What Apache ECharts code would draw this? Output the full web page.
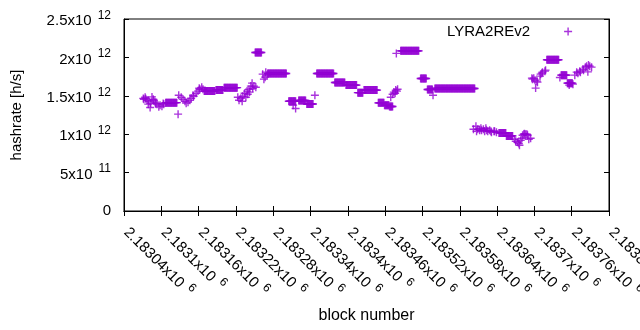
<!DOCTYPE html>
<html>
<head>
<meta charset="utf-8">
<script src="https://cdn.jsdelivr.net/npm/echarts@6/dist/echarts.min.js"></script>
<style>
  html, body { margin: 0; padding: 0; background: #fff; }
  #chart { width: 640px; height: 330px; }
</style>
</head>
<body>
<div id="chart"></div>
<script>
// runs of blocks that share the same hashrate (block from, block to, value in 1e12 h/s)
const runStart = [2183107, 2183169, 2183188, 2183201, 2183251, 2183271, 2183305, 2183321, 2183334, 2183350,
  2183379, 2183397, 2183416, 2183426, 2183449, 2183459, 2183467, 2183485, 2183517, 2183528,
  2183540, 2183643, 2183655, 2183720, 2183743, 2183753]
const runEnd = [2183125, 2183186, 2183199, 2183222, 2183261, 2183301, 2183316, 2183332, 2183344, 2183377,
  2183395, 2183414, 2183424, 2183447, 2183458, 2183466, 2183472, 2183514, 2183526, 2183536,
  2183604, 2183654, 2183665, 2183739, 2183752, 2183761]
const runValue = [1.411, 1.561, 1.574, 1.606, 2.063, 1.791, 1.430, 1.439, 1.394, 1.791,
  1.674, 1.639, 1.541, 1.574, 1.408, 1.378, 1.361, 2.085, 1.726, 1.583,
  1.596, 1.017, 0.978, 1.970, 1.769, 1.665]

// single blocks in between (block, value in 1e12 h/s)
const pointBlock = [
  2183071, 2183072, 2183074, 2183075, 2183077, 2183079, 2183080, 2183082, 2183083, 2183085,
  2183087, 2183088, 2183090, 2183091, 2183093, 2183096, 2183098, 2183101, 2183103, 2183104,
  2183127,
  2183128, 2183132, 2183135, 2183138, 2183140, 2183143, 2183146, 2183148, 2183151, 2183152,
  2183156, 2183159, 2183161, 2183162, 2183165, 2183167,
  2183223, 2183225, 2183228, 2183230, 2183231, 2183234, 2183236, 2183238, 2183239, 2183241,
  2183242, 2183244, 2183246, 2183247, 2183249, 2183252, 2183263, 2183265, 2183267, 2183268, 2183270,
  2183312, 2183316, 2183347,
  2183469, 2183472, 2183474, 2183476, 2183477, 2183479, 2183480, 2183478, 2183537,
  2183602, 2183606, 2183607, 2183609, 2183612, 2183614, 2183615, 2183618, 2183620, 2183622,
  2183623, 2183625, 2183628, 2183630, 2183631, 2183635, 2183636, 2183639,
  2183668, 2183670, 2183673, 2183675, 2183676, 2183678, 2183680, 2183681, 2183683, 2183684,
  2183686, 2183688, 2183689, 2183691, 2183694,
  2183696, 2183697, 2183699, 2183701, 2183702, 2183704, 2183705, 2183709, 2183710, 2183712,
  2183713, 2183717, 2183718, 2183741, 2183756, 2183762,
  2183765, 2183768, 2183770, 2183773, 2183774, 2183778, 2183779, 2183782, 2183784, 2183786,
  2183787, 2183789, 2183792
]
const pointValue = [
  1.466, 1.456, 1.482, 1.463, 1.443, 1.391, 1.430, 1.348, 1.404, 1.486,
  1.456, 1.443, 1.417, 1.400, 1.391, 1.356, 1.378, 1.365, 1.400, 1.391,
  1.261,
  1.508, 1.482, 1.456, 1.430, 1.404, 1.417, 1.443, 1.469, 1.508, 1.495,
  1.534, 1.561, 1.599, 1.586, 1.612, 1.586,
  1.482, 1.443, 1.469, 1.430, 1.495, 1.534, 1.482, 1.561, 1.521, 1.586,
  1.548, 1.626, 1.665, 1.599, 1.626, 1.612, 1.782, 1.717, 1.743, 1.808, 1.769,
  1.378, 1.335, 1.508,
  1.482, 1.521, 1.548, 1.534, 1.574, 1.561, 1.586, 2.052, 1.508,
  1.065, 1.104, 1.039, 1.065, 1.052, 1.078, 1.052, 1.065, 1.039, 1.078,
  1.052, 1.039, 1.052, 1.039, 1.026, 1.039, 1.039, 1.026,
  0.935, 0.909, 0.896, 0.879, 0.857, 0.922, 0.948, 0.987, 1.000, 1.007,
  1.000, 1.000, 0.987, 0.935, 0.948,
  1.730, 1.717, 1.730, 1.704, 1.600, 1.691, 1.678, 1.756, 1.782, 1.795,
  1.808, 1.821, 1.834, 1.739, 1.639, 1.652,
  1.769, 1.808, 1.795, 1.821, 1.808, 1.847, 1.834, 1.873, 1.886, 1.812,
  1.900, 1.886, 1.873
]

// tick labels (mantissa + superscript exponent)
const xTickMant = ['2.18304x10', '2.1831x10', '2.18316x10', '2.18322x10', '2.18328x10', '2.18334x10', '2.1834x10',
  '2.18346x10', '2.18352x10', '2.18358x10', '2.18364x10', '2.1837x10', '2.18376x10', '2.18382x10']
const xTickExp = ['6', '6', '6', '6', '6', '6', '6', '6', '6', '6', '6', '6', '6', '6']
const yTickMant = ['0', '5x10', '1x10', '1.5x10', '2x10', '2.5x10']
const yTickExp = ['', '11', '12', '12', '12', '12']

const seriesName = 'LYRA2REv2'
const xMin = 2183040
const xMax = 2183820
const xStep = 60
const yStep = 0.5e12

const plusPath = 'path://M3.3,0h1.4v8h-1.4z M0,3.3h8v1.4h-8z'
const font = 'Liberation Sans'

const data = []
runStart.forEach((s, i) => {
  for (let b = s; b <= runEnd[i]; b++) data.push([b, runValue[i] * 1e12])
})
pointBlock.forEach((b, i) => data.push([b, pointValue[i] * 1e12]))

const rich = {
  m: { fontSize: 15, fontFamily: font, color: '#000', verticalAlign: 'bottom' },
  e: { fontSize: 12, fontFamily: font, color: '#000', verticalAlign: 'bottom', padding: [0, 0, 7, 6] }
}
function sci (mant, exp) {
  return exp ? '{m|' + mant + '}{e|' + exp + '}' : '{m|' + mant + '}'
}

const chart = echarts.init(document.getElementById('chart'))
const axisLine = { lineStyle: { color: '#000', width: 1 } }
const axisTick = { inside: true, length: 5, lineStyle: { color: '#000' } }

const option = {
  animation: false,
  backgroundColor: '#fff',
  grid: {
    left: 124, right: 31, top: 19, bottom: 119,
    outerBoundsMode: 'none',
    containLabel: false,
    show: true, borderColor: '#000', borderWidth: 1
  },
  legend: {
    data: [{ name: seriesName, icon: plusPath }],
    left: 447,
    top: 24,
    padding: 0,
    align: 'right',
    itemWidth: 66,
    itemHeight: 8,
    textStyle: { fontSize: 15, fontFamily: font, color: '#000' }
  },
  xAxis: [
    {
      type: 'value',
      min: xMin,
      max: xMax,
      interval: xStep,
      name: 'block number',
      nameLocation: 'middle',
      nameGap: 97,
      nameTextStyle: { fontSize: 16, fontFamily: font, color: '#000' },
      axisLine: axisLine,
      axisTick: axisTick,
      splitLine: { show: false },
      axisLabel: {
        rotate: -45,
        margin: 14,
        padding: [0, 0, 0, 5],
        rich: rich,
        formatter: (v) => {
          const i = Math.round((v - xMin) / xStep)
          return sci(xTickMant[i], xTickExp[i])
        }
      }
    },
    {
      type: 'value',
      position: 'top',
      min: xMin,
      max: xMax,
      interval: xStep,
      axisLine: axisLine,
      axisTick: axisTick,
      axisLabel: { show: false },
      splitLine: { show: false }
    }
  ],
  yAxis: [
    {
      type: 'value',
      min: 0,
      max: 2.5e12,
      interval: yStep,
      name: 'hashrate [h/s]',
      nameLocation: 'middle',
      nameGap: 100,
      nameTextStyle: { fontSize: 15, fontFamily: font, color: '#000' },
      axisLine: { show: true, lineStyle: { color: '#000' } },
      axisTick: { show: true, inside: true, length: 5, lineStyle: { color: '#000' } },
      splitLine: { show: false },
      axisLabel: {
        margin: 13,
        rich: rich,
        formatter: (v) => {
          const i = Math.round(v / yStep)
          return sci(yTickMant[i], yTickExp[i])
        }
      }
    },
    {
      type: 'value',
      position: 'right',
      min: 0,
      max: 2.5e12,
      interval: yStep,
      axisLine: { show: true, lineStyle: { color: '#000' } },
      axisTick: { show: true, inside: true, length: 5, lineStyle: { color: '#000' } },
      axisLabel: { show: false },
      splitLine: { show: false }
    }
  ],
  series: [
    {
      name: seriesName,
      type: 'scatter',
      xAxisIndex: 0,
      yAxisIndex: 0,
      symbol: plusPath,
      symbolSize: 8,
      itemStyle: { color: '#9400d3' },
      data: data
    }
  ]
}

chart.setOption(option)
</script>
</body>
</html>
